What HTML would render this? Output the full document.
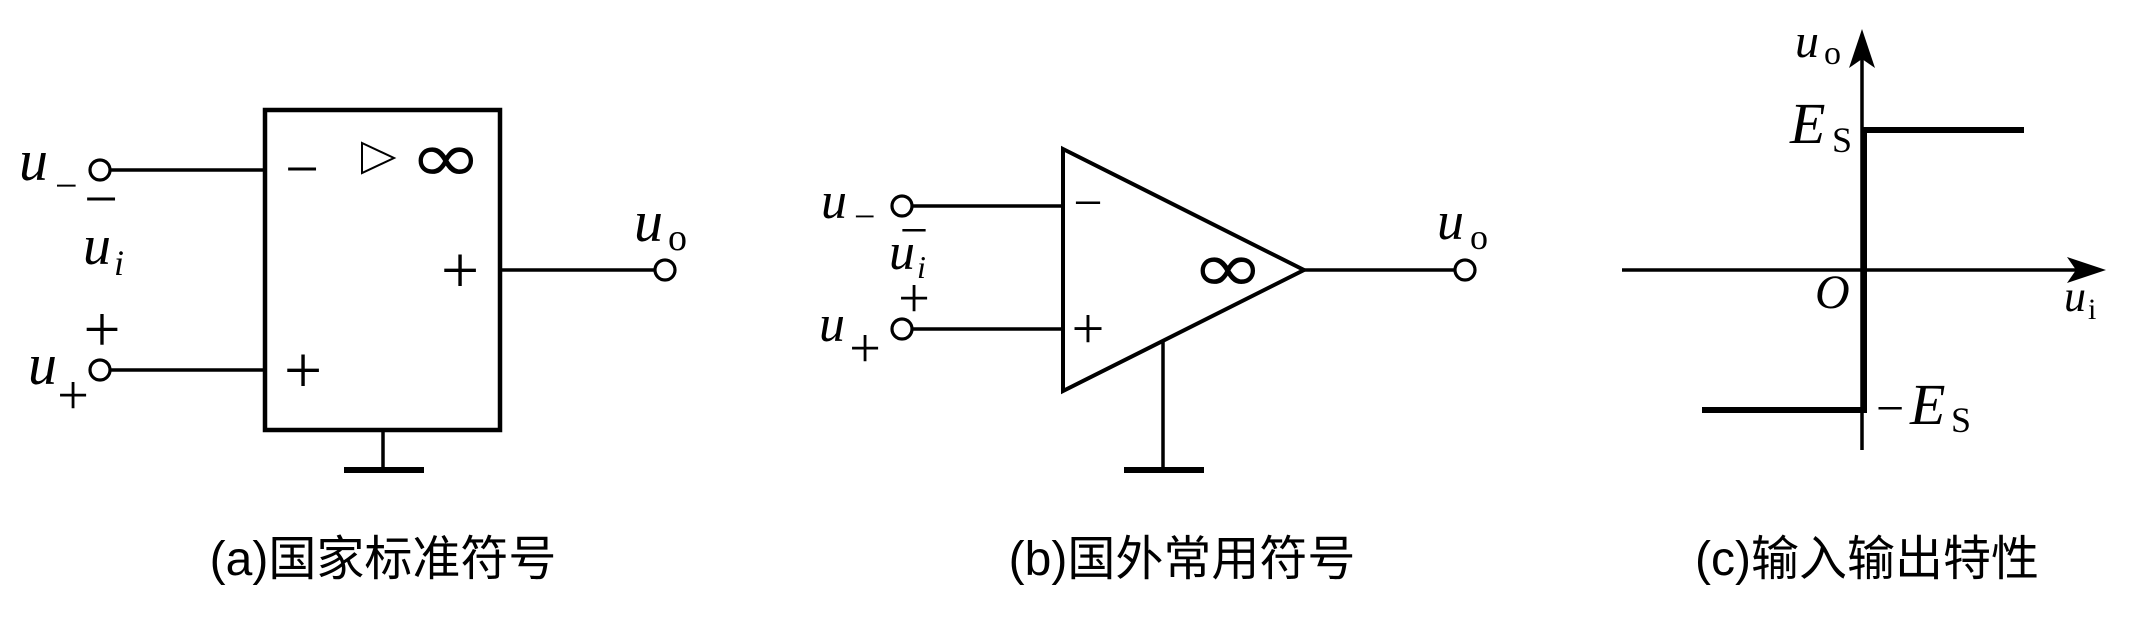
<!DOCTYPE html>
<html><head><meta charset="utf-8"><style>
html,body{margin:0;padding:0;background:#fff;}
svg{display:block;}
.m{font-family:"Liberation Serif","DejaVu Serif",serif;font-style:italic;fill:#000;}
.r{font-family:"Liberation Serif","DejaVu Serif",serif;fill:#000;}
.inf{font-family:"DejaVu Sans","Liberation Sans",sans-serif;fill:#000;}
.cap{font-family:"Liberation Sans","Noto Sans CJK SC",sans-serif;font-size:48px;fill:#000;}
</style></head><body>
<svg width="2136" height="636" viewBox="0 0 2136 636" xmlns="http://www.w3.org/2000/svg">
<rect width="2136" height="636" fill="#fff"/>
<g stroke="#000" fill="none">
  <!-- Panel a -->
  <rect x="265" y="110" width="235" height="320" stroke-width="4.5"/>
  <line x1="111" y1="170" x2="265" y2="170" stroke-width="3.5"/>
  <line x1="111" y1="370" x2="265" y2="370" stroke-width="3.5"/>
  <circle cx="100" cy="170" r="10" stroke-width="3.2"/>
  <circle cx="100" cy="370" r="10" stroke-width="3.2"/>
  <line x1="500" y1="270" x2="654" y2="270" stroke-width="3.5"/>
  <circle cx="665" cy="270" r="10" stroke-width="3.2"/>
  <line x1="383" y1="432" x2="383" y2="470" stroke-width="3.5"/>
  <line x1="344" y1="470" x2="424" y2="470" stroke-width="6"/>
  <polygon points="362,143 394,158 362,173" stroke-width="2"/>

  <!-- Panel b -->
  <polygon points="1063,149 1304,270 1063,391" stroke-width="4" stroke-linejoin="miter"/>
  <line x1="913" y1="206" x2="1063" y2="206" stroke-width="3.5"/>
  <line x1="913" y1="329" x2="1063" y2="329" stroke-width="3.5"/>
  <circle cx="902" cy="206" r="10" stroke-width="3.2"/>
  <circle cx="902" cy="329" r="10" stroke-width="3.2"/>
  <line x1="1304" y1="270" x2="1454" y2="270" stroke-width="3.5"/>
  <circle cx="1465" cy="270" r="10" stroke-width="3.2"/>
  <line x1="1163" y1="340" x2="1163" y2="470" stroke-width="3.5"/>
  <line x1="1124" y1="470" x2="1204" y2="470" stroke-width="6"/>

  <!-- Panel c -->
  <line x1="1862" y1="450" x2="1862" y2="58" stroke-width="3.5"/>
  <line x1="1622" y1="270" x2="2080" y2="270" stroke-width="3.5"/>
  <polyline points="1702,410 1864,410 1864,130 2024,130" stroke-width="6" stroke-linejoin="miter"/>
</g>
<g fill="#000" stroke="none">
  <path d="M1862,29 L1875,68 L1862,59 L1849,68 Z"/>
  <path d="M2106,270 L2067,257 L2076,270 L2067,283 Z"/>
</g>

<!-- Panel a text -->
<text class="m" x="19" y="180" font-size="58">u</text>
<text class="r" x="55" y="199" font-size="40">−</text>
<text class="r" x="101" y="219" font-size="60" text-anchor="middle">−</text>
<text class="m" x="83" y="264" font-size="56">u</text>
<text class="m" x="114" y="275" font-size="36">i</text>
<text class="r" x="102" y="351" font-size="66" text-anchor="middle">+</text>
<text class="m" x="28" y="384" font-size="58">u</text>
<text class="r" x="73" y="414" font-size="56" text-anchor="middle">+</text>
<text class="r" x="302" y="189" font-size="60" text-anchor="middle">−</text>
<text class="inf" transform="translate(446,182) scale(1.3,1.05)" x="0" y="0" font-size="68" text-anchor="middle">∞</text>
<text class="r" x="460" y="293" font-size="68" text-anchor="middle">+</text>
<text class="r" x="303" y="393" font-size="68" text-anchor="middle">+</text>
<text class="m" x="634" y="241" font-size="58">u</text>
<text class="r" x="668" y="250" font-size="38">o</text>

<!-- Panel b text -->
<text class="m" x="821" y="218" font-size="52">u</text>
<text class="r" x="854" y="229" font-size="38">−</text>
<text class="r" x="914" y="247" font-size="50" text-anchor="middle">−</text>
<text class="m" x="889" y="269" font-size="52">u</text>
<text class="m" x="917" y="278" font-size="32">i</text>
<text class="r" x="914" y="317" font-size="56" text-anchor="middle">+</text>
<text class="m" x="819" y="341" font-size="52">u</text>
<text class="r" x="865" y="367" font-size="56" text-anchor="middle">+</text>
<text class="r" x="1088" y="220" font-size="52" text-anchor="middle">−</text>
<text class="r" x="1088" y="348" font-size="58" text-anchor="middle">+</text>
<text class="inf" transform="translate(1228,292) scale(1.3,1.05)" x="0" y="0" font-size="68" text-anchor="middle">∞</text>
<text class="m" x="1437" y="239" font-size="54">u</text>
<text class="r" x="1470" y="249" font-size="36">o</text>

<!-- Panel c text -->
<text class="m" x="1795" y="57" font-size="48">u</text>
<text class="r" x="1824" y="64" font-size="34">o</text>
<text class="m" x="1790" y="143" font-size="58">E</text>
<text class="r" x="1832" y="152" font-size="36">S</text>
<text class="m" x="1815" y="308" font-size="48">O</text>
<text class="m" x="2064" y="311" font-size="44">u</text>
<text class="r" x="2088" y="319" font-size="30">i</text>
<text class="r" x="1876" y="425" font-size="50">−</text>
<text class="m" x="1910" y="424" font-size="58">E</text>
<text class="r" x="1951" y="432" font-size="36">S</text>

<!-- Captions -->
<text class="cap" x="383" y="575" text-anchor="middle">(a)国家标准符号</text>
<text class="cap" x="1182" y="575" text-anchor="middle">(b)国外常用符号</text>
<text class="cap" x="1867" y="575" text-anchor="middle">(c)输入输出特性</text>
</svg>
</body></html>
